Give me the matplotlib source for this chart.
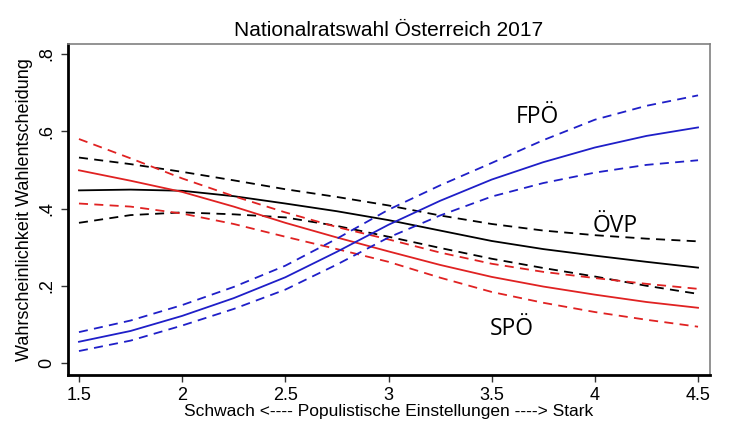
import matplotlib
matplotlib.use("Agg")
import matplotlib.pyplot as plt

# Populismus-Skala (x) und vorhergesagte Wahrscheinlichkeiten
x = [1.5, 1.75, 2.0, 2.25, 2.5, 2.75, 3.0, 3.25, 3.5, 3.75, 4.0, 4.25, 4.5]

fpo = [0.055, 0.083, 0.122, 0.168, 0.222, 0.288, 0.358, 0.420, 0.475, 0.520, 0.558, 0.588, 0.610]
fpo_hi = [0.080, 0.110, 0.150, 0.197, 0.252, 0.322, 0.397, 0.460, 0.518, 0.577, 0.630, 0.666, 0.693]
fpo_lo = [0.031, 0.058, 0.097, 0.140, 0.190, 0.255, 0.325, 0.382, 0.431, 0.466, 0.493, 0.513, 0.525]

ovp = [0.447, 0.449, 0.446, 0.432, 0.413, 0.393, 0.370, 0.343, 0.316, 0.295, 0.278, 0.262, 0.247]
ovp_hi = [0.532, 0.515, 0.495, 0.473, 0.450, 0.430, 0.408, 0.382, 0.360, 0.343, 0.331, 0.322, 0.315]
ovp_lo = [0.363, 0.383, 0.390, 0.385, 0.377, 0.355, 0.327, 0.298, 0.270, 0.246, 0.224, 0.200, 0.179]

spo = [0.499, 0.472, 0.443, 0.405, 0.363, 0.325, 0.289, 0.254, 0.223, 0.198, 0.177, 0.158, 0.143]
spo_hi = [0.580, 0.530, 0.478, 0.432, 0.390, 0.352, 0.320, 0.286, 0.257, 0.236, 0.220, 0.205, 0.192]
spo_lo = [0.413, 0.405, 0.387, 0.360, 0.327, 0.295, 0.262, 0.221, 0.184, 0.156, 0.132, 0.112, 0.094]

x_ticks = [1.5, 2, 2.5, 3, 3.5, 4, 4.5]
x_tick_labels = ["1.5", "2", "2.5", "3", "3.5", "4", "4.5"]
y_ticks = [0, 0.2, 0.4, 0.6, 0.8]
y_tick_labels = ["0", ".2", ".4", ".6", ".8"]

BLUE = "#1f1fc8"
RED = "#e02222"
BLACK = "#000000"
DASH = (5, 3.5)

plt.rcParams["font.family"] = ["Liberation Sans", "DejaVu Sans"]

fig = plt.figure(figsize=(7.30, 4.24), dpi=100)
ax = fig.add_axes([0.0932, 0.1156, 0.8794, 0.7806])

# Linien: Punktschätzer durchgezogen, Konfidenzgrenzen gestrichelt
for mid, hi, lo, col in [(ovp, ovp_hi, ovp_lo, BLACK),
                         (spo, spo_hi, spo_lo, RED),
                         (fpo, fpo_hi, fpo_lo, BLUE)]:
    ax.plot(x, mid, color=col, linewidth=1.3)
    for band in (hi, lo):
        line, = ax.plot(x, band, color=col, linewidth=1.3)
        line.set_dashes(DASH)

# Parteibeschriftungen
lab_font = dict(family=["Open Sans", "DejaVu Sans"], fontsize=16.5,
                ha="center", va="center")
ax.text(3.72, 0.636, "FPÖ", **lab_font)
ax.text(4.10, 0.355, "ÖVP", **lab_font)
ax.text(3.60, 0.088, "SPÖ", **lab_font)

ax.set_xlim(1.447, 4.558)
ax.set_ylim(-0.031, 0.826)
ax.set_xticks(x_ticks)
ax.set_xticklabels(x_tick_labels, fontsize=13)
ax.set_yticks(y_ticks)
ax.set_yticklabels(y_tick_labels, fontsize=13, rotation=90, va="center")
ax.tick_params(direction="out", length=5, width=1, color="#333333", pad=4)

for side in ("left", "bottom"):
    ax.spines[side].set_linewidth(2)
    ax.spines[side].set_color("black")
for side in ("top", "right"):
    ax.spines[side].set_linewidth(1.2)
    ax.spines[side].set_color("#808080")

ax.set_xlabel("Schwach <---- Populistische Einstellungen ----> Stark",
              fontsize=12.5, labelpad=0)
ax.set_ylabel("Wahrscheinlichkeit Wahlentscheidung", fontsize=13, labelpad=4)
ax.set_title("Nationalratswahl Österreich 2017", fontsize=15, pad=6)

fig.savefig("out.png", dpi=100)
